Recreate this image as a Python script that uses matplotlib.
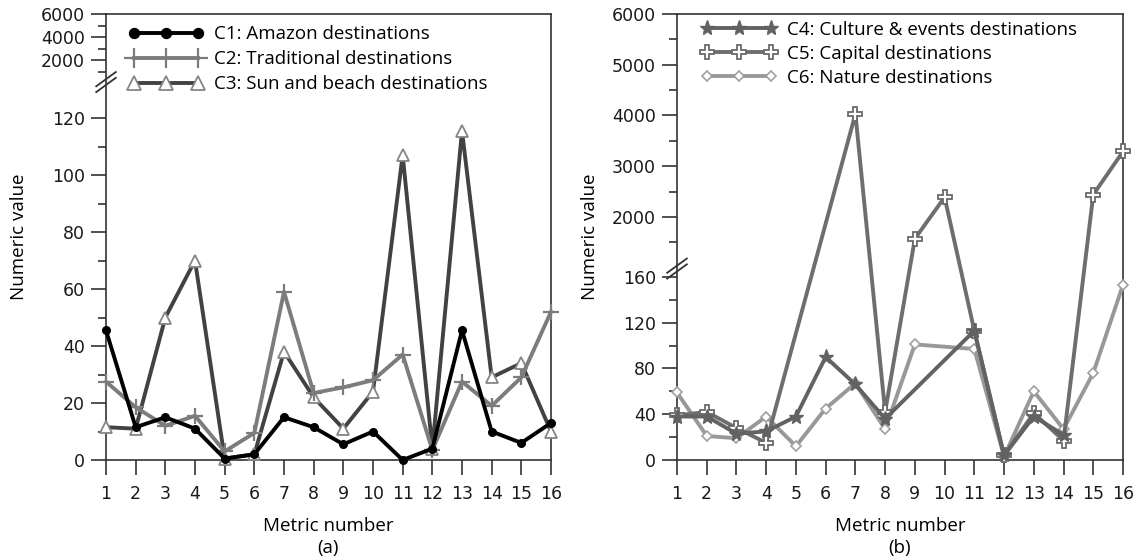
import numpy as np
import matplotlib
matplotlib.use('Agg')
import matplotlib.pyplot as plt

plt.rcParams['font.family'] = ['DejaVu Sans']
LBL_FONT = ['Open Sans', 'DejaVu Sans']

metrics = list(range(1, 17))
nan = np.nan

# panel (a)
c1_amazon = [45.5, 11.5, 15, 11, 0.5, 2, 15, 11.5, 5.5, 10, 0, 4, 45.5, 10, 6, 13]
c2_traditional = [27.5, 18.5, 12, 15.5, 3, 9.5, 59, 23.5, 25.5, 28, 37, 3.5, 27.5, 19, 29, 52]
c3_sunbeach = [11.5, 11, 50, 70, 0.5, 2, 38, 22, 11, 24, 107, 4, 115.5, 29, 34, 10]

# panel (b)
c4_culture = [38, 38, 23, 25, 38, 90, 66, 36, nan, nan, 113, 4, 38, 22, nan, nan]
c5_capital = [39, 42, 28, 15, nan, nan, 4030, 42, 1570, 2390, 113, 4, 41, 17, 2440, 3290]
c6_nature = [59, 21, 19, 38, 12, 45, 67, 27, 101, nan, 97, 3, 60, 27, 76, 153]

labels_a = ['C1: Amazon destinations', 'C2: Traditional destinations',
            'C3: Sun and beach destinations']
labels_b = ['C4: Culture & events destinations', 'C5: Capital destinations',
            'C6: Nature destinations']


def broken_scale(xp, fp):
    # piecewise linear axis (lower part, squeezed gap, upper part)
    xp = np.asarray(xp, float)
    fp = np.asarray(fp, float)

    def _map(v, a, b):
        v = np.asarray(v, float)
        out = np.interp(v, a, b)
        lo = (b[1] - b[0]) / (a[1] - a[0])
        hi = (b[-1] - b[-2]) / (a[-1] - a[-2])
        out = np.where(v < a[0], b[0] + (v - a[0]) * lo, out)
        out = np.where(v > a[-1], b[-1] + (v - a[-1]) * hi, out)
        return out

    return (lambda v: _map(v, xp, fp)), (lambda v: _map(v, fp, xp))


def draw_break(ax, fwd, val):
    yb = float(fwd(val) - fwd(0)) / float(fwd(6000) - fwd(0))
    kw = dict(transform=ax.transAxes, color='#333333', lw=1.3, clip_on=False, zorder=10)
    dx, dy, gap = 0.022, 0.016, 0.013
    ax.plot([-dx, dx], [yb - gap / 2 - dy, yb - gap / 2 + dy], **kw)
    ax.plot([-dx, dx], [yb + gap / 2 - dy, yb + gap / 2 + dy], **kw)


def style_axes(ax, major, minor, fwd, inv):
    ax.set_yscale('function', functions=(fwd, inv))
    ax.set_xlim(1, 16)
    ax.set_ylim(0, 6000)
    ax.set_xticks(metrics)
    ax.set_yticks(major)
    ax.set_yticklabels([str(v) for v in major])
    ax.set_yticks(minor, minor=True)
    ax.tick_params(axis='both', which='major', direction='out', length=11, width=1.2,
                   labelsize=12.5, color='#333333', labelcolor='#1a1a1a')
    ax.tick_params(axis='x', which='major', pad=7)
    ax.tick_params(axis='y', which='major', pad=4)
    ax.tick_params(axis='y', which='minor', direction='out', length=6, width=1.2,
                   color='#333333')
    ax.tick_params(axis='x', which='minor', bottom=False)
    for s in ax.spines.values():
        s.set_linewidth(1.2)
        s.set_color('#333333')
    ax.set_xlabel('Metric number', fontsize=13.5, family=LBL_FONT, labelpad=10)
    ax.set_ylabel('Numeric value', fontsize=13.5, family=LBL_FONT)
    ax.yaxis.set_label_coords(-0.176, 0.5)


fig = plt.figure(figsize=(11.38, 5.6), dpi=100)
ax_a = fig.add_axes([106 / 1138, 100 / 560, 445 / 1138, 446 / 560])
ax_b = fig.add_axes([677 / 1138, 100 / 560, 446 / 1138, 446 / 560])

# ---- (a)
fwd_a, inv_a = broken_scale([0, 130, 1000, 6000], [0, 370.5, 388, 446])
style_axes(ax_a, [0, 20, 40, 60, 80, 100, 120, 2000, 4000, 6000],
           [10, 30, 50, 70, 90, 110, 1000, 3000, 5000], fwd_a, inv_a)

ax_a.plot(metrics, c3_sunbeach, color='#424242', lw=2.8, marker='^', ms=8,
          mfc='white', mec='#858585', mew=1.3, label=labels_a[2], clip_on=False, zorder=3)
ax_a.plot(metrics, c2_traditional, color='#7c7c7c', lw=2.8, marker='+', ms=11,
          mew=1.6, label=labels_a[1], clip_on=False, zorder=4)
ax_a.plot(metrics, c1_amazon, color='black', lw=2.8, marker='o', ms=5.5,
          label=labels_a[0], clip_on=False, zorder=5)
h, l = ax_a.get_legend_handles_labels()
ax_a.legend(h[::-1], l[::-1], loc='upper left', bbox_to_anchor=(0.05, 0.975),
            frameon=False, numpoints=3, handlelength=4.0, handletextpad=0.55,
            labelspacing=0.38, borderpad=0, borderaxespad=0, markerscale=1.3,
            prop={'family': LBL_FONT, 'size': 13.5})
draw_break(ax_a, fwd_a, 500)

# ---- (b)
fwd_b, inv_b = broken_scale([0, 165, 1400, 6000], [0, 189, 212.8, 446.4])
style_axes(ax_b, [0, 40, 80, 120, 160, 2000, 3000, 4000, 5000, 6000],
           [20, 60, 100, 140, 1500, 2500, 3500, 4500, 5500], fwd_b, inv_b)


def valid(vals):
    v = np.asarray(vals, float)
    m = ~np.isnan(v)
    return np.asarray(metrics)[m], v[m]


x4, y4 = valid(c4_culture)
x5, y5 = valid(c5_capital)
x6, y6 = valid(c6_nature)
ax_b.plot(x6, y6, color='#989898', lw=2.8, marker='D', ms=5, mfc='white',
          mec='#a0a0a0', mew=1.2, label=labels_b[2], clip_on=False, zorder=3)
ax_b.plot(x5, y5, color='#6e6e6e', lw=2.8, marker='P', ms=10, mfc='white',
          mec='#6a6a6a', mew=1.3, label=labels_b[1], clip_on=False, zorder=4)
ax_b.plot(x4, y4, color='#626262', lw=2.8, marker='*', ms=11, mfc='#626262',
          mec='#626262', label=labels_b[0], clip_on=False, zorder=5)
h, l = ax_b.get_legend_handles_labels()
ax_b.legend(h[::-1], l[::-1], loc='upper left', bbox_to_anchor=(0.055, 0.985),
            frameon=False, numpoints=3, handlelength=4.0, handletextpad=0.55,
            labelspacing=0.32, borderpad=0, borderaxespad=0,
            prop={'family': LBL_FONT, 'size': 13.5})
draw_break(ax_b, fwd_b, 300)

fig.text((106 + 551) / 2 / 1138, (560 - 548) / 560, '(a)', ha='center', va='center',
         fontsize=13.5, family=LBL_FONT)
fig.text((677 + 1123) / 2 / 1138, (560 - 548) / 560, '(b)', ha='center', va='center',
         fontsize=13.5, family=LBL_FONT)

fig.savefig('out.png', dpi=100, facecolor='white')
